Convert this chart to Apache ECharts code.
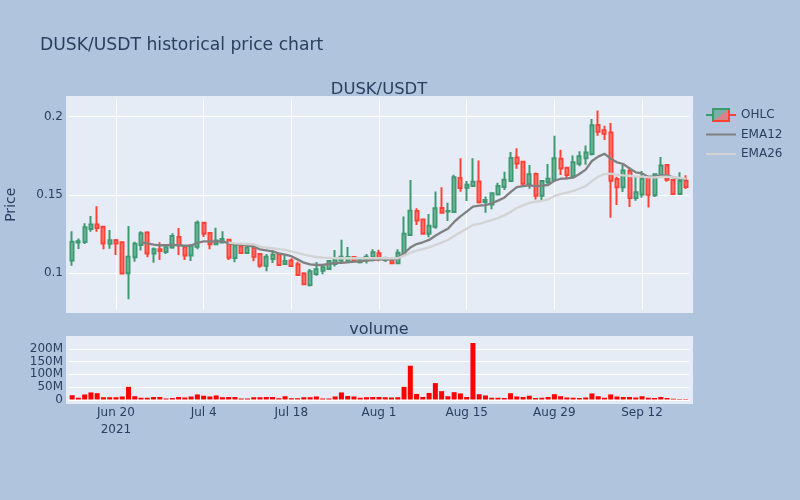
<!DOCTYPE html>
<html>
<head>
<meta charset="utf-8">
<script src="https://cdn.jsdelivr.net/npm/echarts@6/dist/echarts.min.js"></script>
<style>html,body{margin:0;padding:0;background:#b0c4de}#c{width:800px;height:500px}</style>
</head>
<body>
<div id="c"></div>
<script>
const dates = ['Jun 13','Jun 14','Jun 15','Jun 16','Jun 17','Jun 18','Jun 19','Jun 20','Jun 21','Jun 22','Jun 23','Jun 24','Jun 25','Jun 26','Jun 27','Jun 28','Jun 29','Jun 30','Jul 1','Jul 2','Jul 3','Jul 4','Jul 5','Jul 6','Jul 7','Jul 8','Jul 9','Jul 10','Jul 11','Jul 12','Jul 13','Jul 14','Jul 15','Jul 16','Jul 17','Jul 18','Jul 19','Jul 20','Jul 21','Jul 22','Jul 23','Jul 24','Jul 25','Jul 26','Jul 27','Jul 28','Jul 29','Jul 30','Jul 31','Aug 1','Aug 2','Aug 3','Aug 4','Aug 5','Aug 6','Aug 7','Aug 8','Aug 9','Aug 10','Aug 11','Aug 12','Aug 13','Aug 14','Aug 15','Aug 16','Aug 17','Aug 18','Aug 19','Aug 20','Aug 21','Aug 22','Aug 23','Aug 24','Aug 25','Aug 26','Aug 27','Aug 28','Aug 29','Aug 30','Aug 31','Sep 1','Sep 2','Sep 3','Sep 4','Sep 5','Sep 6','Sep 7','Sep 8','Sep 9','Sep 10','Sep 11','Sep 12','Sep 13','Sep 14','Sep 15','Sep 16','Sep 17','Sep 18','Sep 19'];
const tickLabels = ['Jun 20','Jul 4','Jul 18','Aug 1','Aug 15','Aug 29','Sep 12'];
// [open, close, low, high]
const ohlc = [
[.1081,.1202,.1049,.1268],[.1196,.1204,.1155,.1223],[.1200,.1294,.1187,.1319],[.1283,.1311,.1266,.1366],[.1311,.1289,.1266,.1428],
[.1298,.1191,.1153,.1302],[.1189,.1211,.1157,.1277],[.1211,.1191,.1117,.1219],[.1198,.0998,.0998,.1200],[.1000,.1106,.0834,.1302],
[.1102,.1189,.1074,.1202],[.1181,.1255,.1145,.1268],[.1260,.1126,.1102,.1268],[.1126,.1153,.1068,.1164],[.1153,.1143,.1085,.1198],
[.1136,.1166,.1123,.1181],[.1164,.1238,.1157,.1255],[.1232,.1179,.1117,.1289],[.1168,.1113,.1085,.1181],[.1113,.1174,.1079,.1187],
[.1170,.1323,.1153,.1338],[.1323,.1253,.1232,.1326],[.1257,.1185,.1153,.1264],[.1185,.1209,.1181,.1291],[.1196,.1219,.1196,.1268],
[.1215,.1100,.1085,.1219],[.1098,.1177,.1070,.1181],[.1172,.1130,.1128,.1179],[.1130,.1164,.1128,.1179],[.1162,.1106,.1077,.1189],
[.1123,.1049,.1036,.1128],[.1049,.1106,.1013,.1123],[.1091,.1119,.1066,.1149],[.1123,.1053,.1049,.1126],[.1060,.1079,.1055,.1115],
[.1081,.1047,.1043,.1096],[.1057,.0989,.0987,.1074],[.0998,.0930,.0923,.1006],[.0926,.1013,.0915,.1028],[.0996,.1026,.0985,.1072],
[.1017,.1038,.0994,.1047],[.1028,.1079,.1021,.1085],[.1060,.1085,.1043,.1149],[.1081,.1106,.1070,.1215],[.1077,.1104,.1068,.1168],
[.1104,.1077,.1070,.1109],[.1070,.1085,.1062,.1096],[.1087,.1106,.1062,.1123],[.1102,.1134,.1077,.1153],[.1128,.1100,.1077,.1151],
[.1085,.1091,.1072,.1106],[.1083,.1064,.1057,.1089],[.1064,.1132,.1057,.1153],[.1123,.1253,.1113,.1362],[.1245,.1400,.1243,.1596],
[.1398,.1338,.1309,.1415],[.1343,.1253,.1251,.1345],[.1253,.1304,.1230,.1379],[.1298,.1415,.1285,.1523],[.1417,.1387,.1383,.1549],
[.1394,.1398,.1334,.1451],[.1391,.1613,.1387,.1630],[.1609,.1545,.1521,.1734],[.1547,.1566,.1462,.1589],[.1557,.1585,.1553,.1734],
[.1587,.1453,.1445,.1721],[.1455,.1468,.1387,.1491],[.1440,.1511,.1409,.1515],[.1504,.1557,.1500,.1579],[.1551,.1598,.1532,.1649],
[.1589,.1736,.1587,.1774],[.1740,.1702,.1668,.1798],[.1713,.1572,.1560,.1719],[.1568,.1632,.1540,.1691],[.1634,.1496,.1472,.1643],
[.1496,.1589,.1466,.1596],[.1583,.1604,.1570,.1698],[.1594,.1734,.1591,.1879],[.1732,.1670,.1628,.1789],[.1674,.1628,.1600,.1679],
[.1619,.1709,.1609,.1753],[.1700,.1747,.1683,.1779],[.1734,.1772,.1694,.1817],[.1762,.1945,.1753,.1985],[.1947,.1904,.1879,.2040],
[.1913,.1891,.1851,.1943],[.1900,.1591,.1355,.1960],[.1602,.1549,.1436,.1617],[.1549,.1657,.1519,.1691],[.1655,.1481,.1423,.1679],
[.1481,.1517,.1464,.1621],[.1504,.1606,.1483,.1653],[.1611,.1502,.1421,.1615],[.1498,.1632,.1487,.1634],[.1628,.1689,.1621,.1743],
[.1691,.1598,.1585,.1698],[.1596,.1506,.1502,.1598],[.1506,.1589,.1502,.1645],[.1591,.1551,.1538,.1626]
];
const ema12 = [null,null,null,null,null,null,null,null,null,null,null,
.1198,.1191,.1183,.1179,.1179,.1181,.1179,.1176,.1177,.1194,.1204,.1204,.1202,.1206,.1191,.1185,.1181,.1179,.1170,.1153,.1147,.1140,.1128,.1119,.1109,.1089,.1068,.1057,.1053,.1053,.1060,.1066,.1066,.1070,.1074,.1077,.1081,.1085,.1089,.1089,.1087,.1096,.1128,.1164,.1187,.1198,.1213,.1240,.1264,.1285,.1328,.1364,.1394,.1426,.1432,.1436,.1447,.1464,.1483,.1519,.1551,.1557,.1562,.1557,.1560,.1564,.1591,.1604,.1606,.1611,.1634,.1662,.1717,.1745,.1764,.1732,.1709,.1698,.1670,.1645,.1638,.1617,.1617,.1626,.1626,.1613,.1604,.1598];
const ema26 = [null,null,null,null,null,null,null,null,null,null,null,null,null,null,null,null,null,null,null,null,null,null,null,null,null,
.1196,.1191,.1189,.1187,.1185,.1170,.1164,.1160,.1155,.1149,.1140,.1130,.1119,.1111,.1104,.1100,.1098,.1096,.1096,.1096,.1097,.1096,.1096,.1096,.1096,.1096,.1096,.1096,.1113,.1132,.1145,.1155,.1166,.1181,.1196,.1213,.1238,.1262,.1285,.1309,.1315,.1328,.1340,.1353,.1370,.1391,.1417,.1434,.1449,.1457,.1462,.1472,.1494,.1506,.1515,.1526,.1540,.1557,.1589,.1617,.1634,.1636,.1630,.1626,.1623,.1617,.1617,.1613,.1613,.1615,.1617,.1613,.1609,.1604];
// volume, millions
const volume = [17,7,20,28,25,9,9,9,12,50,13,7,7,10,10,4,6,10,8,12,20,15,12,16,9,10,10,4,4,9,9,10,10,5,13,5,5,9,9,12,4,4,12,28,14,12,7,9,10,10,9,8,9,50,134,22,10,26,65,33,13,29,24,10,224,21,16,7,7,6,25,12,10,15,6,7,10,21,13,8,7,6,8,24,13,7,20,12,10,10,8,13,7,6,10,6,3,2,2];
const priceTicks = [0.1,0.15,0.2];
const volumeTicks = [0,50,100,150,200];

const ink = '#2a3f5f', green = '#3D9970', red = '#FF4136', font = '"DejaVu Sans", sans-serif';
const isTick = (i, v) => tickLabels.includes(v === undefined ? dates[i] : v);
const lineIcon = 'path://M0 0H30V2H0Z';
const chart = echarts.init(document.getElementById('c'), null, {renderer:'canvas'});
chart.setOption({
  animation:false,
  backgroundColor:'#b0c4de',
  textStyle:{fontFamily:font,color:ink},
  title:[
    {text:'DUSK/USDT historical price chart',left:40,top:37,padding:0,textStyle:{fontFamily:font,fontSize:17.2,fontWeight:'normal',color:ink}},
    {text:'DUSK/USDT',left:379,top:82,padding:0,textAlign:'center',textStyle:{fontFamily:font,fontSize:16.4,fontWeight:'normal',color:ink}},
    {text:'volume',left:379,top:322,padding:0,textAlign:'center',textStyle:{fontFamily:font,fontSize:16,fontWeight:'normal',color:ink}}
  ],
  legend:{
    orient:'vertical',left:706,top:108,padding:0,itemWidth:30,itemHeight:14,itemGap:5.5,
    textStyle:{fontFamily:font,fontSize:12,color:ink,lineHeight:14},
    data:[
      {name:'OHLC',icon:'path://M0 6H6V0H24V6H30V8H24V14H6V8H0Z M8 2V12H22V2Z',
       itemStyle:{color:{type:'linear',x:.3,y:-.143,x2:.7,y2:1.143,colorStops:[{offset:0,color:green},{offset:.5,color:green},{offset:.5,color:red},{offset:1,color:red}]},borderWidth:0}},
      {name:'EMA12',icon:lineIcon,itemStyle:{color:'#808080'}},
      {name:'EMA26',icon:lineIcon,itemStyle:{color:'#d3d3d3'}}
    ]
  },
  graphic:{elements:[
    {type:'rect',z:-10,silent:true,shape:{x:66,y:96,width:627,height:217},style:{fill:'#e5ecf6'}},
    {type:'rect',z:-10,silent:true,shape:{x:66,y:336,width:627,height:68},style:{fill:'#e5ecf6'}},
    {type:'polygon',z:-5,silent:true,shape:{points:[[713,109],[729,109],[713,121]]},style:{fill:'rgba(61,153,112,0.5)'}},
    {type:'polygon',z:-5,silent:true,shape:{points:[[729,109],[729,121],[713,121]]},style:{fill:'rgba(255,65,54,0.5)'}}
  ]},
  grid:[
    {left:69,width:620,top:99.5,height:210.5,outerBoundsMode:'none'},
    {left:69,width:620,top:340,height:59.5,outerBoundsMode:'none'}
  ],
  xAxis:[
    {type:'category',gridIndex:0,data:dates,boundaryGap:true,
     axisLine:{show:false},axisTick:{show:false},axisLabel:{show:false},
     splitLine:{show:true,interval:isTick,alignWithLabel:true,lineStyle:{color:'#ffffff',width:1}}},
    {type:'category',gridIndex:1,data:dates,boundaryGap:true,
     axisLine:{show:true,lineStyle:{color:'#ffffff',width:2}},axisTick:{show:false},splitLine:{show:false},
     axisLabel:{show:true,interval:isTick,margin:5,fontFamily:font,fontSize:12,color:ink,lineHeight:17,
       formatter:v=>v==='Jun 20'?'Jun 20\n2021':v}}
  ],
  yAxis:[
    {type:'value',gridIndex:0,min:0.07656,max:0.211,name:'Price',nameLocation:'middle',nameGap:51,
     nameTextStyle:{fontFamily:font,fontSize:14,color:ink},
     axisLine:{show:false},axisTick:{show:false,customValues:priceTicks},
     axisLabel:{customValues:priceTicks,margin:6,fontFamily:font,fontSize:12,color:ink,formatter:v=>String(+v.toFixed(2))},
     splitLine:{show:true,lineStyle:{color:'#ffffff',width:1}}},
    {type:'value',gridIndex:1,min:0,max:236,
     axisLine:{show:false},axisTick:{show:false,customValues:volumeTicks},
     axisLabel:{customValues:volumeTicks,margin:6,fontFamily:font,fontSize:12,color:ink,formatter:v=>v===0?'0':v+'M'},
     splitLine:{show:true,lineStyle:{color:'#ffffff',width:1}}}
  ],
  series:[
    {name:'OHLC',type:'candlestick',xAxisIndex:0,yAxisIndex:0,data:ohlc,barWidth:3.5,clip:false,
     itemStyle:{color:'rgba(61,153,112,0.5)',color0:'rgba(255,65,54,0.5)',borderColor:green,borderColor0:red,borderWidth:2}},
    {name:'EMA12',type:'line',xAxisIndex:0,yAxisIndex:0,data:ema12,symbol:'none',connectNulls:false,lineStyle:{color:'#808080',width:2.3},itemStyle:{color:'#808080'}},
    {name:'EMA26',type:'line',xAxisIndex:0,yAxisIndex:0,data:ema26,symbol:'none',connectNulls:false,lineStyle:{color:'#d3d3d3',width:2.3},itemStyle:{color:'#d3d3d3'}},
    {name:'volume',type:'bar',xAxisIndex:1,yAxisIndex:1,data:volume,barWidth:5,itemStyle:{color:'#ff0000'}}
  ]
});
</script>
</body>
</html>
